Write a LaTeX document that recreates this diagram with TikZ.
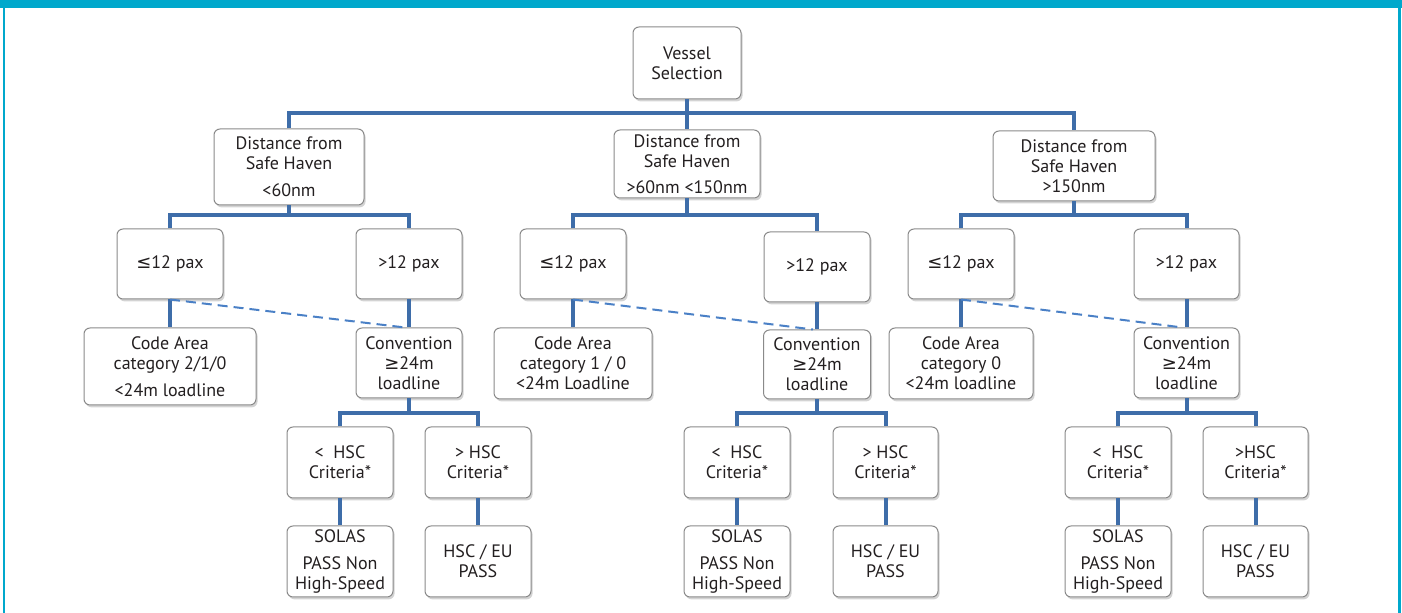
\documentclass[tikz,border=0pt]{standalone}
\usepackage{fontspec}
\setmainfont{PT Sans}
\newfontfamily\symf{DejaVu Sans}
\usetikzlibrary{shadows}
\definecolor{frameteal}{HTML}{00A8CC}
\definecolor{connblue}{HTML}{3E6DA9}
\definecolor{dashblue}{HTML}{4A80C6}
\definecolor{txtgray}{HTML}{231F20}
\definecolor{boxgray}{HTML}{8A8A8A}
\tikzset{
  box/.style={draw=boxgray, fill=white, rounded corners=3pt, line width=0.5pt,
    align=center, inner sep=0pt, text=txtgray,
    font=\fontsize{9}{10}\selectfont,
    drop shadow={opacity=0.35, shadow xshift=0.8pt, shadow yshift=-1.2pt}},
  conn/.style={draw=connblue, line width=2pt},
  dconn/.style={draw=dashblue, line width=1pt, dash pattern=on 5pt off 3pt},
}
\begin{document}
\begin{tikzpicture}[x=0.5pt,y=-0.5pt]
\useasboundingbox (0,0) rectangle (1402,613);
\fill[frameteal] (0,0) rectangle (1402,8);
\fill[frameteal] (3,0) rectangle (5,613);
\fill[frameteal] (1398,0) rectangle (1401,613);

% root
\node[box, minimum width=54pt, minimum height=36pt] (vs) at (687,63) {Vessel\\Selection};
\node[box, minimum width=75pt, minimum height=38pt] (d1) at (289,167) {Distance from\\Safe Haven\\[3.5pt]<60nm};
\node[box, minimum width=73pt, minimum height=34pt] (d2) at (687,164) {Distance from\\Safe Haven\\[3pt]>60nm <150nm};
\node[box, minimum width=81pt, minimum height=35pt] (d3) at (1074,166) {Distance from\\Safe Haven\\>150nm};

% tree 1
\node[box, minimum width=53pt, minimum height=35pt] (p1a) at (170,264) {{\symf ≤}12 pax};
\node[box, minimum width=53pt, minimum height=35pt] (p1b) at (409,264) {>12 pax};
\node[box, minimum width=86pt, minimum height=38.5pt] (c1) at (170,366.5) {Code Area\\category 2/1/0\\[3.5pt]<24m loadline};
\node[box, minimum width=53pt, minimum height=35pt] (v1) at (409,363) {Convention\\{\symf ≥}24m\\loadline};
\node[box, minimum width=53pt, minimum height=35.5pt] (h1a) at (340,462.5) {<\ \ HSC\\Criteria*};
\node[box, minimum width=53pt, minimum height=35.5pt] (h1b) at (478,462.5) {>\ HSC\\Criteria*};
\node[box, minimum width=53pt, minimum height=35.5pt] (s1) at (340,561.5) {SOLAS\\[3.5pt]PASS Non\\High-Speed};
\node[box, minimum width=53pt, minimum height=35.5pt] (e1) at (478,561.5) {HSC / EU\\PASS};

% tree 2
\node[box, minimum width=53pt, minimum height=35pt] (p2a) at (573,264) {{\symf ≤}12 pax};
\node[box, minimum width=53pt, minimum height=35pt] (p2b) at (817,267) {>12 pax};
\node[box, minimum width=79pt, minimum height=35.5pt] (c2) at (573,363.5) {Code Area\\category 1 / 0\\<24m Loadline};
\node[box, minimum width=53.5pt, minimum height=34.5pt] (v2) at (817,364.5) {Convention\\{\symf ≥}24m\\loadline};
\node[box, minimum width=53pt, minimum height=35.5pt] (h2a) at (737,462.5) {<\ \ HSC\\Criteria*};
\node[box, minimum width=52.5pt, minimum height=35.5pt] (h2b) at (885.5,462.5) {>\ HSC\\Criteria*};
\node[box, minimum width=53pt, minimum height=35.5pt] (s2) at (737,561.5) {SOLAS\\[3.5pt]PASS Non\\High-Speed};
\node[box, minimum width=52.5pt, minimum height=35.5pt] (e2) at (885.5,561.5) {HSC / EU\\PASS};

% tree 3
\node[box, minimum width=53pt, minimum height=35pt] (p3a) at (961,264) {{\symf ≤}12 pax};
\node[box, minimum width=52.5pt, minimum height=35pt] (p3b) at (1186.5,264) {>12 pax};
\node[box, minimum width=72pt, minimum height=35.5pt] (c3) at (961,363.5) {Code Area\\category 0\\<24m loadline};
\node[box, minimum width=52.5pt, minimum height=35pt] (v3) at (1186.5,363) {Convention\\{\symf ≥}24m\\loadline};
\node[box, minimum width=53pt, minimum height=35.5pt] (h3a) at (1118,462.5) {<\ \ HSC\\Criteria*};
\node[box, minimum width=52.5pt, minimum height=35.5pt] (h3b) at (1255.5,462.5) {>HSC\\Criteria*};
\node[box, minimum width=53pt, minimum height=35.5pt] (s3) at (1118,561.5) {SOLAS\\[3.5pt]PASS Non\\High-Speed};
\node[box, minimum width=52.5pt, minimum height=35.5pt] (e3) at (1255.5,561.5) {HSC / EU\\PASS};

% bus coordinates
\coordinate (b0) at (687,113);
\coordinate (b1) at (289,215);
\coordinate (b2) at (687,215);
\coordinate (b3) at (1074,215);
\coordinate (b1c) at (409,413);
\coordinate (b2c) at (817,413);
\coordinate (b3c) at (1186.5,413);

\draw[conn] (vs.south) -- (b0) -- (d2.north);
\draw[conn] (d1.north) |- (b0) -| (d3.north);

\draw[conn] (d1.south) -- (b1);
\draw[conn] (p1a.north) |- (b1) -| (p1b.north);
\draw[conn] (d2.south) -- (b2);
\draw[conn] (p2a.north) |- (b2) -| (p2b.north);
\draw[conn] (d3.south) -- (b3);
\draw[conn] (p3a.north) |- (b3) -| (p3b.north);

\draw[conn] (p1a.south) -- (c1.north);
\draw[conn] (p1b.south) -- (v1.north);
\draw[conn] (p2a.south) -- (c2.north);
\draw[conn] (p2b.south) -- (v2.north);
\draw[conn] (p3a.south) -- (c3.north);
\draw[conn] (p3b.south) -- (v3.north);

\draw[dconn] (p1a.south) -- ([xshift=-2pt]v1.north);
\draw[dconn] (p2a.south) -- ([xshift=-2pt]v2.north);
\draw[dconn] (p3a.south) -- ([xshift=-2pt]v3.north);

\draw[conn] (v1.south) -- (b1c);
\draw[conn] (h1a.north) |- (b1c) -| (h1b.north);
\draw[conn] (v2.south) -- (b2c);
\draw[conn] (h2a.north) |- (b2c) -| (h2b.north);
\draw[conn] (v3.south) -- (b3c);
\draw[conn] (h3a.north) |- (b3c) -| (h3b.north);

\draw[conn] (h1a.south) -- (s1.north);
\draw[conn] (h1b.south) -- (e1.north);
\draw[conn] (h2a.south) -- (s2.north);
\draw[conn] (h2b.south) -- (e2.north);
\draw[conn] (h3a.south) -- (s3.north);
\draw[conn] (h3b.south) -- (e3.north);
\end{tikzpicture}
\end{document}
